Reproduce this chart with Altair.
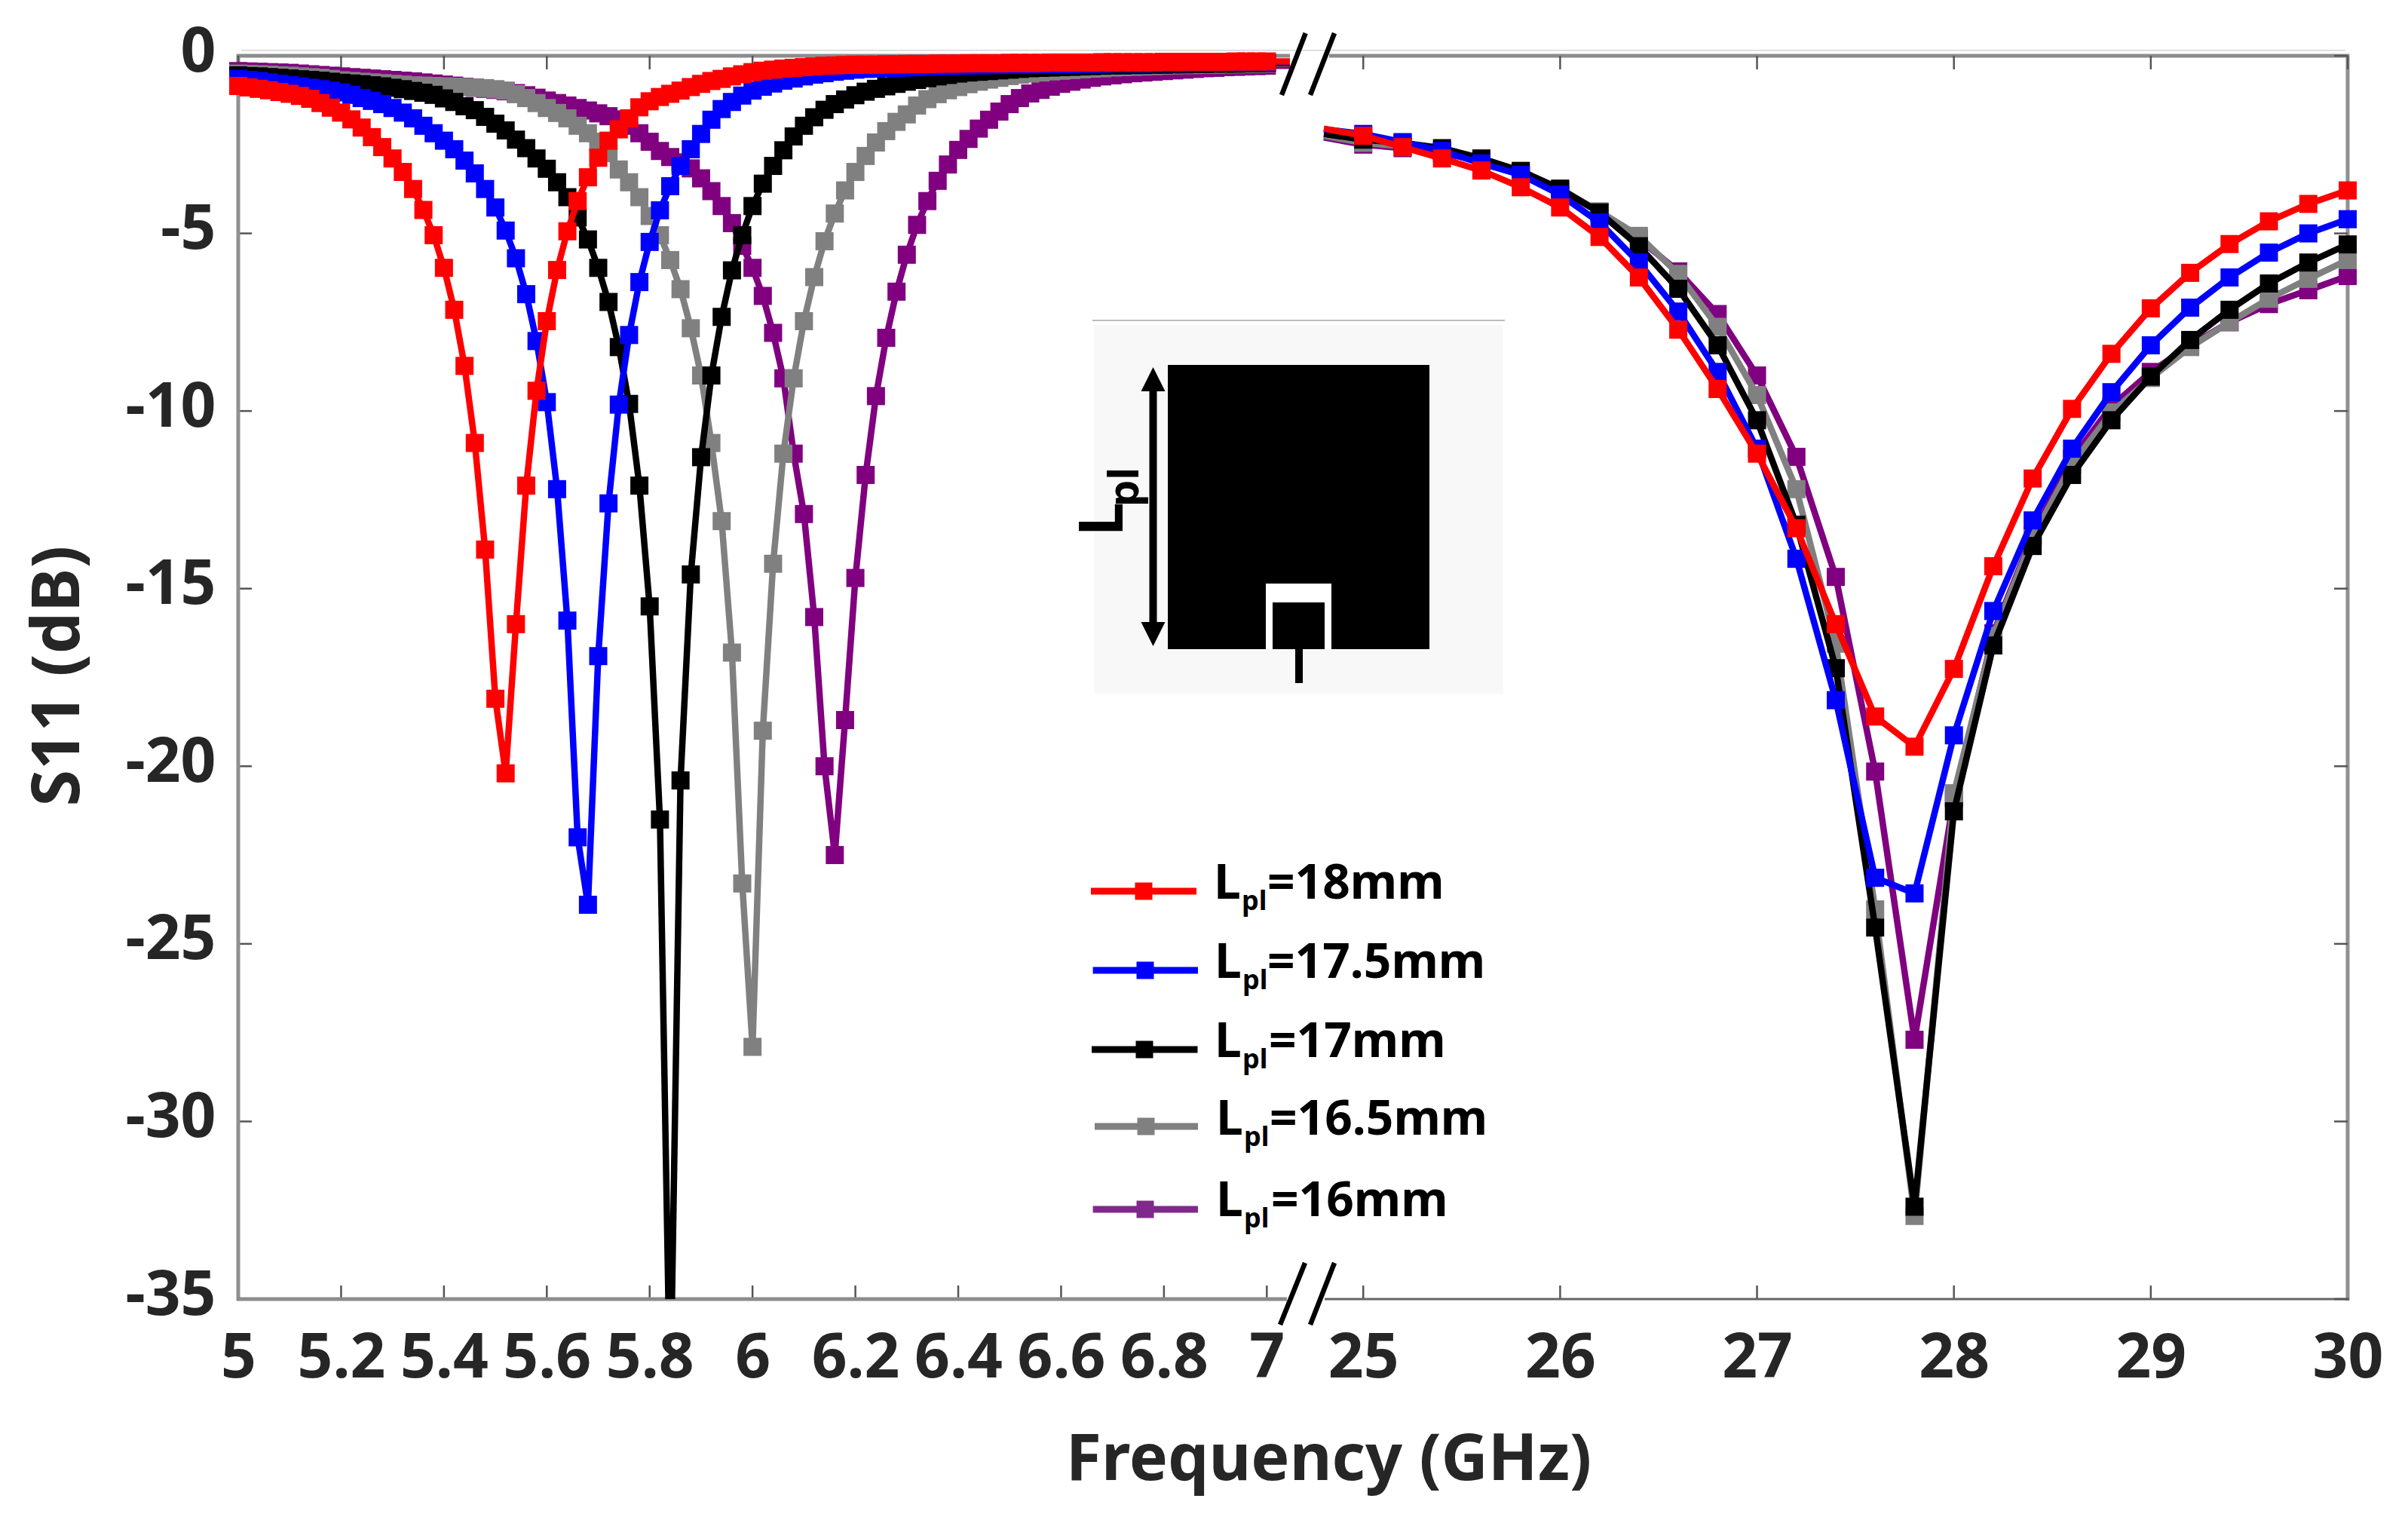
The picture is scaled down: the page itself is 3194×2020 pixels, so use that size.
import altair as alt
import pandas as pd

FREQ_LOW = [5.00,5.02,5.04,5.06,5.08,5.10,5.12,5.14,5.16,5.18,5.20,5.22,5.24,5.26,5.28,5.30,5.32,5.34,5.36,5.38,
            5.40,5.42,5.44,5.46,5.48,5.50,5.52,5.54,5.56,5.58,5.60,5.62,5.64,5.66,5.68,5.70,5.72,5.74,5.76,5.78,
            5.80,5.82,5.84,5.86,5.88,5.90,5.92,5.94,5.96,5.98,6.00,6.02,6.04,6.06,6.08,6.10,6.12,6.14,6.16,6.18,
            6.20,6.22,6.24,6.26,6.28,6.30,6.32,6.34,6.36,6.38,6.40,6.42,6.44,6.46,6.48,6.50,6.52,6.54,6.56,6.58,
            6.60,6.62,6.64,6.66,6.68,6.70,6.72,6.74,6.76,6.78,6.80,6.82,6.84,6.86,6.88,6.90,6.92,6.94,6.96,6.98,7.00]
FREQ_HIGH = [25.0,25.2,25.4,25.6,25.8,26.0,26.2,26.4,26.6,26.8,27.0,27.2,27.4,27.6,27.8,28.0,28.2,28.4,28.6,28.8,
             29.0,29.2,29.4,29.6,29.8,30.0]
LINE_END_LOW = 7.045
LINE_START_HIGH = 24.8

# magnitudes of S11 in dB (all negative on the chart)
RED_LOW = [.85,.89,.93,.97,1.02,1.07,1.13,1.21,1.33,1.46,1.60,1.79,2.02,2.29,2.57,2.89,3.27,3.75,4.34,5.05,
           5.97,7.15,8.73,10.9,13.9,18.1,20.2,16.0,12.1,9.43,7.47,6.03,4.94,4.09,3.42,2.87,2.39,2.07,1.76,1.45,
           1.28,1.16,1.07,.98,.88,.79,.71,.65,.58,.52,.46,.42,.39,.36,.34,.32,.30,.28,.27,.26,
           .25,.25,.25,.24,.24,.23,.23,.23,.22,.22,.22,.21,.21,.21,.21,.20,.20,.20,.20,.19,
           .19,.19,.19,.19,.18,.18,.18,.18,.18,.18,.17,.17,.17,.17,.17,.17,.17,.16,.16,.16,.16]
BLUE_LOW = [.65,.68,.71,.75,.79,.83,.86,.90,.94,.98,1.03,1.10,1.19,1.27,1.36,1.47,1.60,1.76,1.97,2.18,
            2.39,2.63,2.95,3.31,3.75,4.27,4.92,5.70,6.71,8.03,9.75,12.2,15.9,22.0,23.9,16.9,12.6,9.82,7.86,6.37,
            5.24,4.35,3.67,3.10,2.63,2.20,1.80,1.50,1.30,1.12,.98,.87,.78,.70,.64,.58,.53,.49,.45,.42,
            .39,.37,.36,.35,.34,.33,.32,.31,.30,.29,.28,.27,.27,.26,.26,.25,.25,.24,.24,.23,
            .23,.23,.22,.22,.22,.21,.21,.21,.21,.20,.20,.20,.20,.19,.19,.19,.19,.19,.18,.18,.18]
BLACK_LOW = [.55,.57,.58,.60,.62,.64,.66,.68,.70,.73,.76,.78,.80,.83,.86,.90,.94,.99,1.04,1.10,
             1.20,1.30,1.42,1.53,1.72,1.91,2.10,2.36,2.60,2.89,3.18,3.56,3.98,4.55,5.17,5.97,6.93,8.2,9.8,12.1,
             15.5,21.5,38.0,20.4,14.6,11.3,9.0,7.35,6.04,5.05,4.23,3.6,3.1,2.66,2.27,1.97,1.73,1.52,1.36,1.23,
             1.11,1.01,.93,.86,.79,.73,.68,.63,.58,.54,.50,.47,.45,.43,.41,.39,.37,.35,.34,.33,
             .32,.31,.30,.29,.28,.27,.27,.26,.26,.25,.25,.24,.24,.23,.23,.22,.22,.22,.21,.21,.20]
GRAY_LOW = [.50,.51,.52,.53,.55,.56,.58,.60,.62,.65,.69,.71,.73,.75,.77,.79,.81,.83,.84,.85,
            .86,.87,.88,.89,.91,.94,.98,1.08,1.19,1.33,1.47,1.61,1.76,1.97,2.18,2.42,2.74,3.20,3.56,3.98,
            4.51,5.05,5.75,6.57,7.67,9.0,10.9,13.1,16.8,23.3,27.9,19.0,14.3,11.2,9.08,7.47,6.23,5.22,4.44,3.79,
            3.27,2.82,2.44,2.12,1.86,1.65,1.40,1.22,1.08,.97,.88,.80,.73,.67,.62,.57,.53,.50,.47,.44,
            .42,.40,.38,.36,.35,.33,.32,.31,.30,.29,.28,.27,.26,.26,.25,.25,.24,.24,.23,.23,.22]
PURPLE_LOW = [.43,.44,.45,.46,.47,.48,.50,.52,.54,.56,.58,.60,.62,.64,.66,.68,.70,.72,.75,.78,
              .81,.84,.87,.90,.93,.96,1.00,1.05,1.11,1.18,1.26,1.33,1.40,1.47,1.54,1.62,1.70,1.79,1.97,2.18,
              2.42,2.68,2.85,3.00,3.17,3.45,3.81,4.23,4.71,5.35,5.97,6.76,7.80,9.08,11.2,12.9,15.8,20.0,22.5,18.7,
              14.7,11.8,9.58,7.94,6.64,5.6,4.76,4.09,3.52,3.06,2.65,2.34,2.05,1.80,1.57,1.36,1.19,1.06,.96,.87,
              .79,.73,.67,.62,.58,.55,.52,.49,.47,.45,.43,.41,.39,.37,.35,.34,.32,.31,.30,.29,.28]

RED_HIGH = [2.25,2.57,2.89,3.23,3.70,4.27,5.10,6.24,7.71,9.38,11.2,13.3,16.0,18.6,19.45,17.26,14.37,11.9,9.94,8.39,
            7.11,6.11,5.30,4.66,4.17,3.79]
BLUE_HIGH = [2.2,2.43,2.68,3.03,3.35,3.91,4.69,5.82,7.2,8.9,11.06,14.16,18.14,23.14,23.58,19.13,15.63,13.08,11.06,9.47,
             8.15,7.09,6.24,5.54,5.0,4.6]
BLACK_HIGH = [2.36,2.45,2.6,2.89,3.24,3.74,4.41,5.36,6.56,8.15,10.26,13.2,17.24,24.54,32.4,21.27,16.6,13.8,11.8,10.26,
              9.03,8.0,7.15,6.41,5.82,5.31]
GRAY_HIGH = [2.45,2.55,2.7,2.95,3.3,3.75,4.38,5.07,6.14,7.63,9.55,12.2,16.55,24.03,32.66,20.76,16.33,13.56,11.5,10.04,
             9.07,8.2,7.5,6.84,6.28,5.75]
PURPLE_HIGH = [2.5,2.6,2.75,2.95,3.25,3.78,4.4,5.15,6.07,7.27,9.0,11.29,14.67,20.15,27.7,20.9,16.26,13.5,11.34,9.87,
               8.9,8.15,7.5,6.99,6.6,6.2]
# line-only end points beside the axis break: (after 7 GHz, before 25 GHz)
RED_ENDS = [.16, 2.05]
BLUE_ENDS = [.18, 2.07]
BLACK_ENDS = [.20, 2.2]
GRAY_ENDS = [.22, 2.25]
PURPLE_ENDS = [.28, 2.3]

X_TICKS = [5,5.2,5.4,5.6,5.8,6,6.2,6.4,6.6,6.8,7,25,26,27,28,29,30]
Y_TICKS = [0,-5,-10,-15,-20,-25,-30,-35]
LEGEND_VALUES = ["=18mm","=17.5mm","=17mm","=16.5mm","=16mm"]
COLORS = {"red":"#ff0000","blue":"#0000ff","black":"#000000","gray":"#808080","purple":"#800080"}
LEGEND_COLORS = ["#ff0000","#0000ff","#000000","#808080","#7f2a8a"]

L, T, W, H = 316, 74, 2798, 1649
FONT = "Noto Sans"
TXT = "#262626"

x_scale = alt.Scale(domain=[5, LINE_END_LOW, LINE_START_HIGH, 30], range=[0, 1395, 1440, W])
y_scale = alt.Scale(domain=[-35, 0], nice=False, zero=False)

x_axis = alt.Axis(values=X_TICKS, labelExpr="'' + datum.value", ticks=False, domain=False, grid=False,
                  labelFont=FONT, labelFontWeight="bold", labelFontSize=82, labelColor=TXT, labelPadding=38,
                  labelOverlap=False, labelFlush=False, labelBound=False,
                  title="Frequency (GHz)", titleFont=FONT, titleFontWeight="bold", titleFontSize=86, titleColor=TXT,
                  titleX=1446, titleY=239, titleBaseline="alphabetic", titleAlign="center", titleAnchor="middle")
y_axis = alt.Axis(values=Y_TICKS, labelExpr="'' + datum.value", ticks=False, domain=False, grid=False,
                  labelFont=FONT, labelFontWeight="bold", labelFontSize=82, labelColor=TXT, labelPadding=30,
                  labelOffset=-5, labelOverlap=False, labelFlush=False, labelBound=False,
                  title="S11 (dB)", titleFont=FONT, titleFontWeight="bold", titleFontSize=88, titleColor=TXT,
                  titleX=-212, titleY=822, titleBaseline="alphabetic", titleAlign="center", titleAngle=270, titleAnchor="middle")

PX = alt.X("x:Q", scale=x_scale, axis=x_axis)
PY = alt.Y("y:Q", scale=y_scale, axis=y_axis)

def xd(px):
    p = px - L
    if p <= 1395:
        return 5 + p * (LINE_END_LOW - 5) / 1395
    if p <= 1440:
        return LINE_END_LOW + (p - 1395) * (LINE_START_HIGH - LINE_END_LOW) / 45
    return LINE_START_HIGH + (p - 1440) * (30 - LINE_START_HIGH) / (W - 1440)

def yd(py):
    return -(py - T) * 35 / H

def px_rules(rows, **kw):
    df = pd.DataFrame([{"x":xd(a),"y":yd(b),"x2":xd(c),"y2":yd(d),"c":e,"w":f} for a,b,c,d,e,f in rows])
    return alt.Chart(df).mark_rule(**kw).encode(
        x=PX, y=PY, x2="x2:Q", y2="y2:Q",
        color=alt.Color("c:N", scale=None, legend=None),
        strokeWidth=alt.StrokeWidth("w:Q", scale=None, legend=None))

def px_rects(rows):
    df = pd.DataFrame([{"x":xd(a),"y":yd(b),"x2":xd(c),"y2":yd(d),"c":e} for a,b,c,d,e in rows])
    return alt.Chart(df).mark_rect(strokeWidth=0).encode(
        x=PX, y=PY, x2="x2:Q", y2="y2:Q", color=alt.Color("c:N", scale=None, legend=None))

def px_text(rows, size, color="#000000", angle=0):
    df = pd.DataFrame([{"x":xd(a),"y":yd(b),"t":s} for a,b,s in rows])
    return alt.Chart(df).mark_text(font=FONT, fontWeight="bold", fontSize=size, color=color, align="left",
                                   baseline="alphabetic", angle=angle).encode(x=PX, y=PY, text="t:N")

# ---- frame
frame = px_rules([
    (320,66.7,3111,66.7,"#d4d4d4",1.5),
    (316,72,316,1725,"#909090",5),
    (3114,72,3114,1725,"#909090",5),
    (314,74,1711,74,"#8c8c8c",5),
    (1763,74,3116,74,"#8c8c8c",5),
    (314,1723,1707,1723,"#8c8c8c",5),
    (1757,1723,3116,1723,"#666666",3),
])

tick_color = "#555555"
xt = pd.DataFrame({"t": X_TICKS})
yt = pd.DataFrame({"t": Y_TICKS})
tick_bottom = alt.Chart(xt).mark_rule(color=tick_color, strokeWidth=2.5).encode(
    x=alt.X("t:Q", scale=x_scale, axis=x_axis), y=alt.value(H), y2=alt.value(H-18))
tick_top = alt.Chart(xt).mark_rule(color=tick_color, strokeWidth=2.5).encode(
    x=alt.X("t:Q", scale=x_scale, axis=x_axis), y=alt.value(0), y2=alt.value(18))
tick_left = alt.Chart(yt).mark_rule(color=tick_color, strokeWidth=2.5).encode(
    y=alt.Y("t:Q", scale=y_scale, axis=y_axis), x=alt.value(0), x2=alt.value(18))
tick_right = alt.Chart(yt).mark_rule(color=tick_color, strokeWidth=2.5).encode(
    y=alt.Y("t:Q", scale=y_scale, axis=y_axis), x=alt.value(W), x2=alt.value(W-18))

# ---- curves, back to front
series = [
    ("purple", PURPLE_LOW, PURPLE_HIGH, PURPLE_ENDS),
    ("gray", GRAY_LOW, GRAY_HIGH, GRAY_ENDS),
    ("black", BLACK_LOW, BLACK_HIGH, BLACK_ENDS),
    ("blue", BLUE_LOW, BLUE_HIGH, BLUE_ENDS),
    ("red", RED_LOW, RED_HIGH, RED_ENDS),
]
curves = []
for name, low, high, ends in series:
    assert len(low) == len(FREQ_LOW), name
    assert len(high) == len(FREQ_HIGH), name
    low_df = pd.DataFrame({"f": FREQ_LOW + [LINE_END_LOW], "v": [-v for v in low] + [-ends[0]]})
    high_df = pd.DataFrame({"f": [LINE_START_HIGH] + FREQ_HIGH, "v": [-ends[1]] + [-v for v in high]})
    pts = pd.DataFrame({"f": FREQ_LOW + FREQ_HIGH, "v": [-v for v in low] + [-v for v in high]})
    pts = pts[pts["v"] >= -35]
    c = COLORS[name]
    for d in (low_df, high_df):
        curves.append(alt.Chart(d).mark_line(color=c, strokeWidth=8.5, clip=True, strokeJoin="miter").encode(
            x=alt.X("f:Q", scale=x_scale, axis=x_axis),
            y=alt.Y("v:Q", scale=y_scale, axis=y_axis), order="f:Q"))
    curves.append(alt.Chart(pts).mark_point(shape="square", filled=True, opacity=1, color=c, size=576, strokeWidth=0).encode(
        x=alt.X("f:Q", scale=x_scale, axis=x_axis),
        y=alt.Y("v:Q", scale=y_scale, axis=y_axis)))

# ---- axis break marks
breaks = px_rules([
    (1700,126,1731.7,44,"#000000",6.5),
    (1738,126,1770,44,"#000000",6.5),
    (1698,1757,1731,1675,"#000000",6.5),
    (1738,1757,1770,1675,"#000000",6.5),
])

# ---- inset drawing
inset_rect = []
for rect in [
    (1451,431,1994,920,"#f8f8f8"),
    (1549,484,1896,861,"#000000"),
    (1679,774,1766,861,"#ffffff"),
    (1688,799,1757,861,"#000000"),
]:
    inset_rect.append(px_rects([rect]))
inset_lines = px_rules([
    (1449,425,1996,425,"#bbbbbb",2),
    (1723,842,1723,906,"#000000",10),
    (1529.5,510,1529.5,835,"#000000",10),
])
heads = alt.Chart(pd.DataFrame({"x":[xd(1529.5)],"y":[yd(503)]})).mark_point(
    shape="M-1,1L0,-1L1,1Z", filled=True, opacity=1, color="#000000", size=1024, strokeWidth=0).encode(x=PX, y=PY)
heads2 = alt.Chart(pd.DataFrame({"x":[xd(1529.5)],"y":[yd(841)]})).mark_point(
    shape="M-1,-1L0,1L1,-1Z", filled=True, opacity=1, color="#000000", size=1024, strokeWidth=0).encode(x=PX, y=PY)
inset_L = px_text([(1489,711,"L")], 80, angle=270)
inset_pl = px_text([(1510,672,"pl")], 56, angle=270)

# ---- hand-placed legend
leg_y = [1182,1287,1392,1494,1604]
leg_x1 = [1447,1449.6,1448,1452,1449.6]
leg_x2 = [1587,1589,1588.5,1589,1589]
leg_mark = [1517,1519,1518,1520,1519]
leg_L = [1610,1611,1611,1613,1613]
leg_pl = [1647,1648,1648,1650,1650]
leg_val = [1681,1681,1683,1684,1686]
leg_base = [1192,1296.5,1402,1505,1612.6]
leg_lines = px_rules([(leg_x1[i],leg_y[i],leg_x2[i],leg_y[i],LEGEND_COLORS[i],9) for i in range(5)])
leg_marks = alt.Chart(pd.DataFrame({"x":[xd(m) for m in leg_mark],"y":[yd(y) for y in leg_y],"c":LEGEND_COLORS})).mark_point(
    shape="square", filled=True, opacity=1, size=529, strokeWidth=0).encode(
    x=PX, y=PY, color=alt.Color("c:N", scale=None, legend=None))
leg_t1 = px_text([(leg_L[i],leg_base[i],"L") for i in range(5)], 64)
leg_t2 = px_text([(leg_pl[i],leg_base[i]+15,"pl") for i in range(5)], 36)
leg_t3 = px_text([(leg_val[i],leg_base[i],LEGEND_VALUES[i]) for i in range(5)], 64)

chart = alt.layer(
    tick_bottom, tick_left, frame, tick_top, tick_right,
    *curves, breaks,
    *inset_rect, inset_lines, heads, heads2, inset_L, inset_pl,
    leg_lines, leg_marks, leg_t1, leg_t2, leg_t3,
).properties(
    width=W, height=H,
    padding={"left": L-8, "top": T-8, "right": 60, "bottom": 270},
    autosize=alt.AutoSizeParams(type="none"),
    background="#ffffff",
).configure_view(stroke=None)

chart.save("out.html", embed_options={"renderer": "svg", "actions": False})
